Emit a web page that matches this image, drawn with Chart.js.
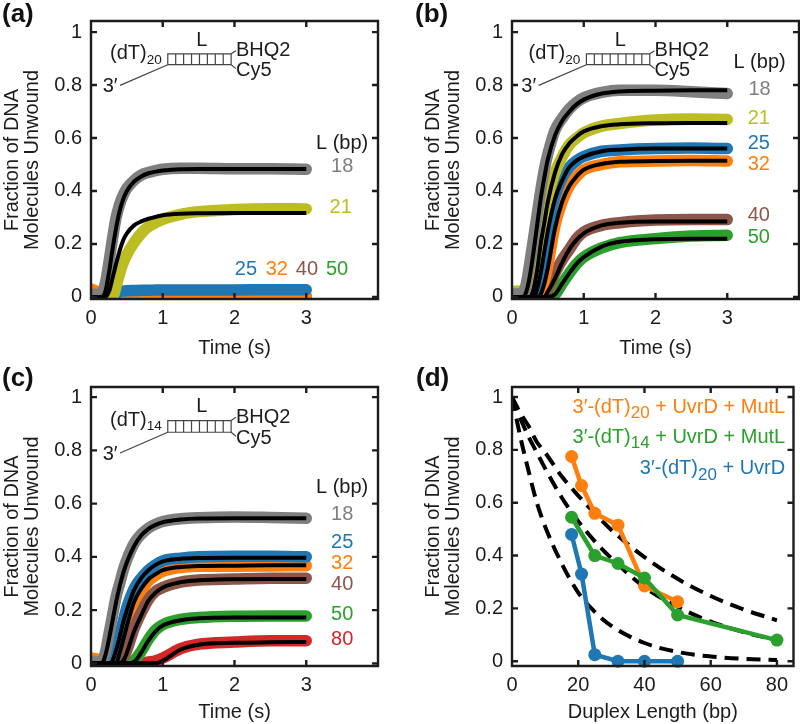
<!DOCTYPE html>
<html>
<head>
<meta charset="utf-8">
<script src="https://cdn.jsdelivr.net/npm/chart.js@4/dist/chart.umd.min.js"></script>
<style>
body { margin: 0; background: #fff; }
canvas { position: absolute; }
</style>
</head>
<body>
<canvas id="panelA" width="400" height="364" style="left:0;top:0"></canvas>
<canvas id="panelB" width="400" height="364" style="left:400px;top:0"></canvas>
<canvas id="panelC" width="400" height="360" style="left:0;top:364px"></canvas>
<canvas id="panelD" width="400" height="360" style="left:400px;top:364px"></canvas>
<script>
const tiempos = [0, .1, .15, .2, .25, .3, .35, .4, .45, .5, .6, .7, .8, .9, 1, 1.25, 1.5, 2, 2.5, 3];
const ticksTiempo = [0, 1, 2, 3];
const ticksFraccion = [0, .2, .4, .6, .8, 1];
const ticksDuplex = [0, 20, 40, 60, 80];

// panel a
const a18 = [.01, .01, .012, .05, .13, .22, .3, .35, .385, .41, .44, .46, .47, .477, .482, .486, .486, .484, .484, .482];
const a18Fit = [0, 0, 0, .02, .09, .18, .26, .325, .37, .4, .435, .455, .467, .473, .477, .482, .483, .483, .483, .483];
const a21 = [0, 0, 0, 0, 0, 0, .04, .09, .13, .16, .205, .24, .265, .28, .293, .312, .322, .33, .333, .332];
const a21Fit = [0, 0, 0, 0, .02, .07, .125, .175, .215, .24, .27, .285, .295, .302, .308, .314, .316, .317, .317, .317];
const a25 = [0, 0, 0, 0, 0, 0, .012, .02, .022, .023, .024, .025, .025, .026, .026, .026, .026, .026, .027, .027];
const a32 = [.03, .018, .012, .006, .003, .002, .002, .002, .002, .003, .003, .003, .003, .003, .003, .003, .003, .003, .003, .003];
const a40 = [.004, .003, .002, .001, 0, 0, 0, 0, 0, 0, 0, 0, 0, 0, 0, 0, 0, 0, 0, 0];
const a50 = [.002, .002, .001, .001, 0, 0, 0, 0, 0, 0, 0, 0, 0, 0, 0, 0, 0, 0, 0, 0];

// panel b
const b18 = [.01, .012, .012, .05, .13, .22, .31, .4, .48, .54, .63, .675, .71, .735, .752, .772, .78, .78, .775, .768];
const b18Fit = [0, 0, 0, .02, .08, .17, .27, .37, .45, .52, .61, .665, .7, .727, .745, .768, .776, .779, .78, .78];
const b21 = [.02, .022, .016, .012, .02, .06, .13, .22, .3, .38, .47, .53, .575, .6, .62, .645, .655, .668, .672, .67];
const b21Fit = [0, 0, 0, 0, 0, .03, .1, .2, .28, .36, .47, .54, .58, .606, .625, .645, .652, .656, .657, .657];
const b25 = [0, 0, 0, 0, 0, .01, .04, .09, .17, .26, .38, .45, .49, .515, .53, .55, .555, .56, .562, .56];
const b25Fit = [0, 0, 0, 0, 0, 0, .03, .09, .17, .25, .37, .44, .49, .515, .53, .55, .556, .56, .56, .56];
const b32 = [0, 0, 0, 0, 0, 0, 0, .02, .06, .12, .27, .36, .42, .455, .48, .5, .51, .513, .515, .513];
const b32Fit = [0, 0, 0, 0, 0, 0, 0, .01, .05, .11, .26, .36, .42, .455, .48, .502, .51, .513, .514, .514];
const b40 = [0, 0, 0, 0, 0, 0, 0, 0, .01, .03, .09, .14, .18, .22, .245, .27, .28, .29, .292, .292];
const b40Fit = [0, 0, 0, 0, 0, 0, 0, 0, 0, .02, .07, .13, .18, .215, .24, .27, .28, .285, .285, .285];
const b50 = [0, 0, 0, 0, 0, 0, 0, 0, 0, 0, .01, .05, .09, .125, .15, .185, .205, .22, .23, .233];
const b50Fit = [0, 0, 0, 0, 0, 0, 0, 0, 0, 0, .01, .05, .09, .125, .15, .19, .208, .218, .22, .22];

// panel c
const c18 = [.005, .005, .005, .04, .11, .18, .25, .3, .35, .39, .45, .485, .508, .523, .533, .543, .547, .55, .548, .545];
const c18Fit = [0, 0, 0, .03, .09, .16, .23, .29, .34, .38, .44, .48, .505, .52, .53, .54, .544, .545, .545, .545];
const c25 = [.003, .003, .003, .002, 0, .02, .06, .11, .16, .21, .28, .32, .35, .37, .385, .395, .4, .402, .402, .4];
const c25Fit = [0, 0, 0, 0, 0, .01, .05, .1, .155, .2, .275, .32, .35, .37, .383, .393, .396, .397, .397, .397];
const c32 = [.02, .015, .01, .005, 0, 0, .01, .04, .08, .13, .22, .27, .31, .33, .345, .36, .365, .365, .366, .367];
const c32Fit = [0, 0, 0, 0, 0, 0, 0, .04, .09, .14, .23, .28, .315, .335, .35, .362, .366, .367, .368, .368];
const c40 = [0, 0, 0, 0, 0, 0, 0, 0, .02, .05, .13, .19, .24, .27, .285, .305, .313, .317, .32, .32];
const c40Fit = [0, 0, 0, 0, 0, 0, 0, 0, .01, .04, .12, .18, .235, .265, .285, .305, .312, .316, .317, .317];
const c50 = [0, 0, 0, 0, 0, 0, 0, 0, 0, 0, .01, .045, .09, .125, .145, .165, .172, .177, .178, .178];
const c50Fit = [0, 0, 0, 0, 0, 0, 0, 0, 0, 0, .005, .04, .085, .12, .142, .162, .169, .172, .172, .172];
const c80 = [0, 0, 0, 0, 0, 0, 0, 0, 0, 0, 0, 0, .005, .01, .02, .055, .072, .08, .085, .085];
const c80Fit = [0, 0, 0, 0, 0, 0, 0, 0, 0, 0, 0, 0, 0, 0, .01, .052, .07, .077, .079, .08];

// panel d
const largos20 = [18, 21, 25, 32, 40, 50];
const largos14 = [18, 25, 32, 40, 50, 80];
const conMutL20 = [.775, .665, .56, .515, .285, .225];
const conMutL14 = [.545, .4, .37, .315, .175, .08];
const soloUvrD = [.48, .33, .025, 0, 0, 0];
const largosFit = [0, 2.5, 5, 7.5, 10, 15, 20, 25, 30, 40, 50, 60, 70, 80];
const fitAlto = [1, .94, .89, .83, .79, .7, .627, .56, .497, .394, .312, .247, .196, .155];
const fitMedio = [1, .92, .85, .79, .73, .62, .53, .454, .39, .28, .206, .15, .11, .08];
const fitBajo = [1, .85, .72, .6, .51, .37, .26, .187, .134, .069, .035, .018, .009, .005];

const GRIS = "#7f7f7f", AMARILLO = "#bcbd22", AZUL = "#1f77b4";
const NARANJA = "#ff7f0e", MARRON = "#8c564b", VERDE = "#2ca02c", ROJO = "#d62728";
const TINTA = "#1c1c1c";
const FUENTE = '"Liberation Sans", Arial, sans-serif';

function puntos(xs, ys) {
    return xs.map((x, i) => ({ x, y: ys[i] }));
}

function banda(ys, color) {
    return {
        data: puntos(tiempos, ys), borderColor: color, borderWidth: 11.5, pointRadius: 0,
        showLine: true, cubicInterpolationMode: "monotone", borderCapStyle: "round", borderJoinStyle: "round", clip: 0
    };
}

function ajuste(ys) {
    return {
        data: puntos(tiempos, ys), borderColor: "#000", borderWidth: 4, pointRadius: 0,
        showLine: true, cubicInterpolationMode: "monotone", clip: 0
    };
}

function discontinua(ys) {
    return {
        data: puntos(largosFit, ys), borderColor: "#000", borderWidth: 4, borderDash: [14, 8], pointRadius: 0,
        showLine: true, cubicInterpolationMode: "monotone", clip: 0
    };
}

function conPuntos(xs, ys, color) {
    return {
        data: puntos(xs, ys), borderColor: color, backgroundColor: color, borderWidth: 4.5, pointRadius: 6.5,
        pointBorderWidth: 0, showLine: true, tension: 0, clip: false
    };
}

// texto con subindices: tramos [texto, esSub]
function texto(ctx, tramos, x, y, size, color, alinear, subEscala = .68) {
    const medir = t => {
        ctx.font = `${t[1] ? size * subEscala : size}px ${FUENTE}`;
        return ctx.measureText(t[0]).width;
    };
    const total = tramos.reduce((s, t) => s + medir(t), 0);
    let px = alinear === "right" ? x - total : alinear === "center" ? x - total / 2 : x;
    ctx.fillStyle = color;
    ctx.textAlign = "left";
    ctx.textBaseline = "middle";
    tramos.forEach(t => {
        const w = medir(t);
        ctx.fillText(t[0], px, t[1] ? y + size * .3 : y);
        px += w;
    });
}

const marco = {
    id: "marco",
    afterDraw(chart, args, opts) {
        const { ctx, chartArea: area, scales: { x, y } } = chart;
        ctx.save();
        ctx.strokeStyle = TINTA;
        ctx.lineWidth = 2.4;
        ctx.beginPath();
        ctx.rect(area.left, area.top, area.right - area.left, area.bottom - area.top);
        x.ticks.forEach(t => {
            const p = x.getPixelForValue(t.value);
            ctx.moveTo(p, area.bottom); ctx.lineTo(p, area.bottom - 6);
            ctx.moveTo(p, area.top); ctx.lineTo(p, area.top + 6);
        });
        y.ticks.forEach(t => {
            const p = y.getPixelForValue(t.value);
            ctx.moveTo(area.left, p); ctx.lineTo(area.left + 6, p);
            ctx.moveTo(area.right, p); ctx.lineTo(area.right - 6, p);
        });
        ctx.stroke();

        (opts.rotulos || []).forEach(r => {
            texto(ctx, r.tramos, x.getPixelForValue(r.x), y.getPixelForValue(r.y), r.size || 20, r.color || TINTA, r.alinear || "center", r.sub);
        });

        if (opts.esquema) {
            const e = opts.esquema;
            const X = v => x.getPixelForValue(v + e.dx);
            const Y = v => y.getPixelForValue(v);
            ctx.strokeStyle = "#444";
            ctx.lineWidth = 1.2;
            ctx.beginPath();
            ctx.rect(X(1.07), Y(e.arriba), X(1.953) - X(1.07), Y(e.abajo) - Y(e.arriba));
            for (let i = 1; i < 8; i++) {
                const q = X(1.07 + i * (1.953 - 1.07) / 8);
                ctx.moveTo(q, Y(e.arriba)); ctx.lineTo(q, Y(e.abajo));
            }
            ctx.moveTo(X(1.07), Y(e.abajo)); ctx.lineTo(X(.405), Y(e.abajo - .078));
            ctx.moveTo(X(1.953), Y(e.arriba)); ctx.lineTo(X(2.02), Y(e.arriba + .012));
            ctx.moveTo(X(1.953), Y(e.abajo)); ctx.lineTo(X(2.02), Y(e.abajo - .015));
            ctx.stroke();
            texto(ctx, [["(dT)", false], [e.largo, true]], X(.986), Y(e.arriba), 20, TINTA, "right");
            texto(ctx, [["L", false]], X(1.544), Y(e.arriba + .052), 20, TINTA, "center");
            texto(ctx, [["BHQ2", false]], X(2.02), Y(e.arriba + .012), 20, TINTA, "left");
            texto(ctx, [["Cy5", false]], X(2.02), Y(e.abajo - .022), 20, TINTA, "left");
            texto(ctx, [["3′", false]], X(.163), Y(e.abajo - .082), 20, TINTA, "left");
        }

        ctx.font = `bold 26px ${FUENTE}`;
        ctx.fillStyle = "#111";
        ctx.textAlign = "left";
        ctx.textBaseline = "middle";
        ctx.fillText(opts.letra, opts.letraX, 15);
        ctx.restore();
    }
};

function crearPanel(id, cfg) {
    const lista = cfg.series;
    lista.forEach((d, i) => { d.order = lista.length - i; });
    new Chart(document.getElementById(id), {
        type: "scatter",
        data: { datasets: lista },
        plugins: [marco],
        options: {
            responsive: false,
            animation: false,
            layout: { padding: { top: cfg.arriba, right: cfg.derecha } },
            plugins: {
                legend: { display: false },
                tooltip: { enabled: false },
                marco: { rotulos: cfg.rotulos, esquema: cfg.esquema, letra: cfg.letra, letraX: cfg.letraX }
            },
            scales: {
                x: {
                    type: "linear", min: 0, max: cfg.xMax,
                    grid: { display: false, drawTicks: false }, border: { display: false },
                    afterBuildTicks: s => { s.ticks = cfg.xTicks.map(value => ({ value })); },
                    afterFit: s => { s.height = cfg.abajo; },
                    ticks: { color: TINTA, font: { family: FUENTE, size: 20 }, padding: 7, maxRotation: 0, callback: v => String(v) },
                    title: { display: true, text: cfg.xTitulo, color: TINTA, font: { family: FUENTE, size: 20 }, padding: { top: 0, bottom: Math.max(0, cfg.abajo - 61) } }
                },
                y: {
                    min: cfg.yMin, max: cfg.yMax,
                    grid: { display: false, drawTicks: false }, border: { display: false },
                    afterBuildTicks: s => { s.ticks = ticksFraccion.map(value => ({ value })); },
                    afterFit: s => { s.width = cfg.izquierda; },
                    ticks: { color: TINTA, font: { family: FUENTE, size: 20 }, padding: 9, callback: v => String(v) },
                    title: { display: true, text: ["Fraction of DNA", "Molecules Unwound"], color: TINTA, font: { family: FUENTE, size: 20, lineHeight: 1.03 }, padding: { top: cfg.izquierda - 89, bottom: 0 } }
                }
            }
        }
    });
}

function rotulo(t, x, y, color) {
    return { tramos: [[t, false]], x, y, color };
}

crearPanel("panelA", {
    letra: "(a)", letraX: 2, izquierda: 91, derecha: 22, arriba: 21, abajo: 65,
    xMax: 4, xTicks: ticksTiempo, xTitulo: "Time (s)", yMin: -.008, yMax: 1.042,
    esquema: { dx: 0, arriba: .918, abajo: .877, largo: "20" },
    series: [banda(a50, VERDE), banda(a40, MARRON), banda(a32, NARANJA), banda(a25, AZUL), banda(a21, AMARILLO), banda(a18, GRIS), ajuste(a21Fit), ajuste(a18Fit)],
    rotulos: [
        rotulo("L (bp)", 3.5, .58), rotulo("18", 3.5, .494, GRIS), rotulo("21", 3.48, .337, AMARILLO),
        rotulo("25", 2.16, .103, AZUL), rotulo("32", 2.59, .103, NARANJA), rotulo("40", 3.01, .103, MARRON), rotulo("50", 3.43, .103, VERDE)
    ]
});

crearPanel("panelB", {
    letra: "(b)", letraX: 15, izquierda: 112, derecha: 1, arriba: 21, abajo: 65,
    xMax: 4, xTicks: ticksTiempo, xTitulo: "Time (s)", yMin: -.008, yMax: 1.042,
    esquema: { dx: -.033, arriba: .918, abajo: .877, largo: "20" },
    series: [banda(b50, VERDE), banda(b40, MARRON), banda(b32, NARANJA), banda(b25, AZUL), banda(b21, AMARILLO), banda(b18, GRIS),
        ajuste(b50Fit), ajuste(b40Fit), ajuste(b32Fit), ajuste(b25Fit), ajuste(b21Fit), ajuste(b18Fit)],
    rotulos: [
        rotulo("L (bp)", 3.45, .887), rotulo("18", 3.45, .784, GRIS), rotulo("21", 3.44, .673, AMARILLO), rotulo("25", 3.44, .579, AZUL),
        rotulo("32", 3.44, .499, NARANJA), rotulo("40", 3.44, .308, MARRON), rotulo("50", 3.44, .226, VERDE)
    ]
});

crearPanel("panelC", {
    letra: "(c)", letraX: 2, izquierda: 91, derecha: 22, arriba: 23, abajo: 58,
    xMax: 4, xTicks: ticksTiempo, xTitulo: "Time (s)", yMin: -.01, yMax: 1.038,
    esquema: { dx: 0, arriba: .912, abajo: .868, largo: "14" },
    series: [banda(c80, ROJO), banda(c50, VERDE), banda(c32, NARANJA), banda(c40, MARRON), banda(c25, AZUL), banda(c18, GRIS),
        ajuste(c80Fit), ajuste(c50Fit), ajuste(c40Fit), ajuste(c32Fit), ajuste(c25Fit), ajuste(c18Fit)],
    rotulos: [
        rotulo("L (bp)", 3.5, .661), rotulo("18", 3.5, .558, GRIS), rotulo("25", 3.5, .454, AZUL), rotulo("32", 3.5, .375, NARANJA),
        rotulo("40", 3.5, .295, MARRON), rotulo("50", 3.5, .184, VERDE), rotulo("80", 3.5, .09, ROJO)
    ]
});

crearPanel("panelD", {
    letra: "(d)", letraX: 16, izquierda: 112, derecha: 1, arriba: 23, abajo: 58,
    xMax: 85, xTicks: ticksDuplex, xTitulo: "Duplex Length (bp)", yMin: -.018, yMax: 1.038,
    series: [discontinua(fitAlto), discontinua(fitMedio), discontinua(fitBajo),
        conPuntos(largos20, soloUvrD, AZUL), conPuntos(largos20, conMutL20, NARANJA), conPuntos(largos14, conMutL14, VERDE)],
    rotulos: [
        { tramos: [["3′-(dT)", false], ["20", true], [" + UvrD + MutL", false]], x: 82.5, y: .962, color: NARANJA, alinear: "right", size: 20, sub: .85 },
        { tramos: [["3′-(dT)", false], ["14", true], [" + UvrD + MutL", false]], x: 82.5, y: .848, color: VERDE, alinear: "right", size: 20, sub: .85 },
        { tramos: [["3′-(dT)", false], ["20", true], [" + UvrD", false]], x: 82.5, y: .728, color: AZUL, alinear: "right", size: 20, sub: .85 }
    ]
});
</script>
</body>
</html>
